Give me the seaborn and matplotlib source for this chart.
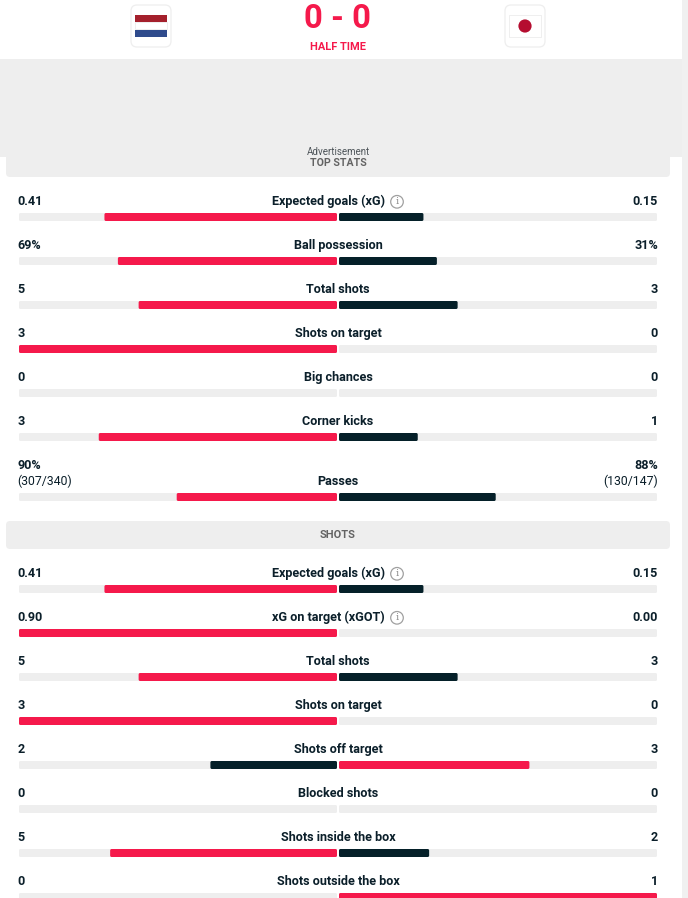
import numpy as np
import pandas as pd
import matplotlib
matplotlib.use("Agg")
import matplotlib.pyplot as plt
from matplotlib.patches import FancyBboxPatch, Rectangle, Circle
from matplotlib.transforms import IdentityTransform
import seaborn as sns

# Match stats
top_labels = ["Expected goals (xG)", "Ball possession", "Total shots", "Shots on target",
              "Big chances", "Corner kicks", "Passes"]
top_home = ["0.41", "69%", "5", "3", "0", "3", "90%"]
top_away = ["0.15", "31%", "3", "0", "0", "1", "88%"]
top_home_values = [0.41, 69, 5, 3, 0, 3, 90]
top_away_values = [0.15, 31, 3, 0, 0, 1, 88]

shot_labels = ["Expected goals (xG)", "xG on target (xGOT)", "Total shots", "Shots on target",
               "Shots off target", "Blocked shots", "Shots inside the box", "Shots outside the box"]
shot_home = ["0.41", "0.90", "5", "3", "2", "0", "5", "0"]
shot_away = ["0.15", "0.00", "3", "0", "3", "0", "2", "1"]
shot_home_values = [0.41, 0.90, 5, 3, 2, 0, 5, 0]
shot_away_values = [0.15, 0.00, 3, 0, 3, 0, 2, 1]

# Layout of the page, in pixels from the top left corner
W, H = 688, 898
top_bar_rows = [217, 261, 305, 349, 393, 437, 497]
shot_bar_rows = [589, 633, 677, 721, 765, 809, 853, 897]
BAR_H = 8
RED, NAVY, TRACK = "#f5194b", "#052029", "#eeeeee"
INK = "#0b1f2a"

sns.set_theme(style="white")
plt.rcParams["font.family"] = ["Roboto", "DejaVu Sans"]
PX = 72 / 100  # points per pixel at 100 dpi
LABEL_PX = 12.6

fig = plt.figure(figsize=(W / 100, H / 100), dpi=100, facecolor="white")

# Page furniture and text live on an axes measured in pixels
page = fig.add_axes([0, 0, 1, 1])
page.set_xlim(0, W)
page.set_ylim(H, 0)
page.axis("off")

# Scroll gutter, advert band and section headers
page.add_patch(Rectangle((682, 0), 6, H, color="#f0f0f0", lw=0, zorder=0))
page.add_patch(Rectangle((0, 0), 682, 59, color="white", lw=0, zorder=1))
page.add_patch(Rectangle((0, 59), 682, 98, color=TRACK, lw=0, zorder=1))
page.add_patch(Rectangle((0, 157), 682, H - 157, color="white", lw=0, zorder=1))
for y0, y1 in [(150, 177), (521, 549)]:
    page.add_patch(FancyBboxPatch((10, y0 + 4), 656, y1 - y0 - 8, boxstyle="round,pad=4,rounding_size=4",
                                  fc=TRACK, ec="none", zorder=2))

# Team crests
for x0 in (131, 505):
    page.add_patch(FancyBboxPatch((x0 + 5, 10), 30, 32, boxstyle="round,pad=5,rounding_size=6",
                                  fc="white", ec="#eeeeee", lw=0.9, zorder=3))
for y0, color in zip((15, 22.3, 29.5), ("#a4202c", "#ffffff", "#2f4b8c")):
    page.add_patch(Rectangle((135, y0), 32, 7.3, fc=color, ec="none", zorder=4))
page.add_patch(Rectangle((135, 22.3), 32, 7.2, fc="none", ec="#e8e8e8", lw=0.5, zorder=4))
page.add_patch(Rectangle((509, 15), 32, 22, fc="white", ec="#ececec", lw=0.6, zorder=4))
page.add_patch(Circle((525, 26), 6.6, fc="#b50d30", ec="none", zorder=5))

# Score line
page.text(338, 19.5, "0 - 0", color=RED, fontsize=33 * PX, fontweight="bold",
          ha="center", va="center", zorder=5)
page.text(338, 46.5, "HALF TIME", color=RED, fontsize=11 * PX, fontweight="bold",
          ha="center", va="center", zorder=5)
page.text(338, 151.8, "Advertisement", color="#4d5459", fontsize=9.8 * PX,
          ha="center", va="center", zorder=5)
page.text(338, 162.8, "TOP STATS", color="#636363", fontsize=10.5 * PX, fontweight="bold",
          ha="center", va="center", zorder=5)
page.text(338, 534.5, "SHOTS", color="#636363", fontsize=11 * PX, fontweight="bold",
          ha="center", va="center", zorder=5)

TEXT_DROP = 0.8
HOME_X, AWAY_X = 17.5, 658


def stat_text(y, label, home, away, info=False):
    y = y + TEXT_DROP
    style = dict(color=INK, fontsize=LABEL_PX * PX, fontweight="bold", va="center", zorder=5)
    page.text(328.5 if info else 338, y, label, ha="center", **style)
    page.text(HOME_X, y, home, ha="left", **style)
    page.text(AWAY_X, y, away, ha="right", **style)
    if info:
        page.add_patch(Circle((397, y), 6.3, fc="white", ec="#a0a0a0", lw=0.9, zorder=5))
        page.text(397, y, "i", color="#8a8a8a", fontsize=10 * PX, family="DejaVu Serif",
                  ha="center", va="center", zorder=6)


for row, label, home, away in zip(top_bar_rows, top_labels, top_home, top_away):
    if label == "Passes":
        bold = dict(color=INK, fontsize=LABEL_PX * PX, fontweight="bold", va="center", zorder=5)
        light = dict(color=INK, fontsize=12.2 * PX, va="center", zorder=5)
        page.text(338, row - 16 + TEXT_DROP, label, ha="center", **bold)
        page.text(HOME_X, row - 32 + TEXT_DROP, home, **bold)
        page.text(AWAY_X, row - 32 + TEXT_DROP, away, ha="right", **bold)
        page.text(HOME_X, row - 16 + TEXT_DROP, "(307/340)", **light)
        page.text(AWAY_X, row - 16 + TEXT_DROP, "(130/147)", ha="right", **light)
    else:
        stat_text(row - 16, label, home, away, info=label.startswith("Expected"))
for row, label, home, away in zip(shot_bar_rows, shot_labels, shot_home, shot_away):
    stat_text(row - 16, label, home, away, info="xG" in label)


def long_table(rows, home_values, away_values):
    records = []
    for row, h, a in zip(rows, home_values, away_values):
        total = h + a
        hs = h / total if total else 0
        as_ = a / total if total else 0
        records.append((row, -hs, "lead" if h >= a else "trail"))
        records.append((row, as_, "lead" if a >= h else "trail"))
    return pd.DataFrame(records, columns=["row", "share", "state"])


table = pd.concat([long_table(top_bar_rows, top_home_values, top_away_values),
                   long_table(shot_bar_rows, shot_home_values, shot_away_values)], ignore_index=True)
table = table[table["share"] != 0]
rows = top_bar_rows + shot_bar_rows
bar_width = BAR_H / min(np.diff(sorted(rows)))

# Diverging bars on a share axis that runs from the home edge to the away edge
bars = fig.add_axes([19 / W, 0, (657 - 19) / W, 1], facecolor="none")
bars.set_zorder(3)
for side in (-1, 1):
    sns.barplot(data=pd.DataFrame({"row": rows, "share": [side] * len(rows)}), y="row", x="share",
                orient="y", native_scale=True, color=TRACK, width=bar_width, errorbar=None,
                saturation=1, ax=bars, linewidth=0)
track_count = len(bars.patches)
for state, color in [("lead", RED), ("trail", NAVY)]:
    subset = table[table["state"] == state]
    # Use a fixed bar thickness even when a subset has wider row spacing
    spacing = min(np.diff(sorted(subset["row"].unique())))
    sns.barplot(data=subset, y="row", x="share", orient="y", native_scale=True,
                color=color, width=BAR_H / spacing, errorbar=None, saturation=1, ax=bars, linewidth=0)
bars.set_xlim(-1, 1)
bars.set_ylim(H, 0)
bars.axis("off")

# Swap each square bar for a rounded one, leaving a gap at the centre line
fig.canvas.draw()
originals = list(bars.patches)
centre_px = bars.transData.transform((0, 0))[0]
for index, patch in enumerate(originals):
    ext = patch.get_window_extent()
    x0, x1, y0, y1 = ext.x0, ext.x1, ext.y0, ext.y1
    if abs(x1 - centre_px) < 0.5:
        x1 -= 1
    else:
        x0 += 1
    r = 1.5
    rounded = FancyBboxPatch((x0 + r, y0 + r), x1 - x0 - 2 * r, y1 - y0 - 2 * r,
                             boxstyle=f"round,pad={r},rounding_size={r}", fc=patch.get_facecolor(),
                             ec="none", transform=IdentityTransform(), clip_on=False)
    rounded.set_zorder(4 if index < track_count else 5)
    fig.add_artist(rounded)
    patch.remove()

fig.savefig("out.png", dpi=100, facecolor="white")
